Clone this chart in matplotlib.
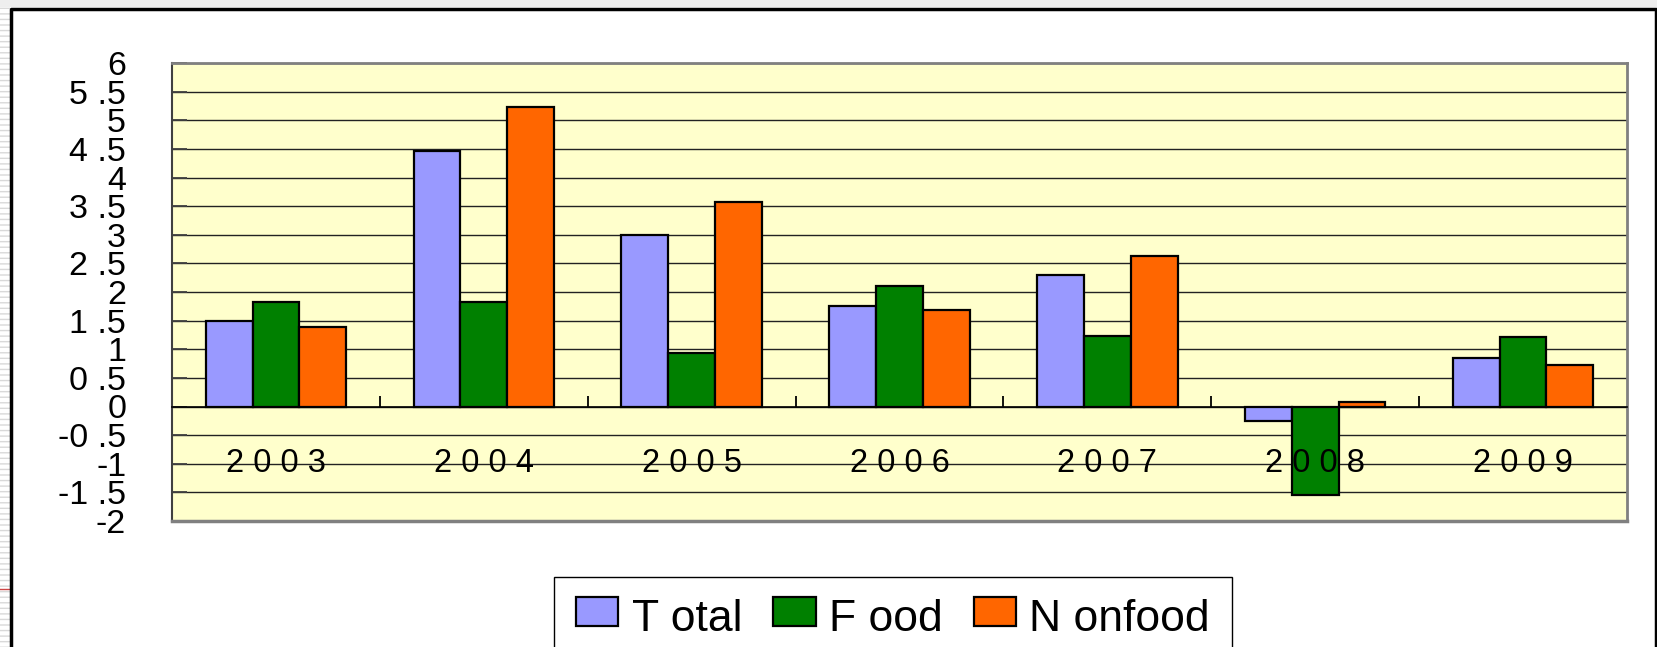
import numpy as np
import matplotlib
matplotlib.use("Agg")
import matplotlib.pyplot as plt
from matplotlib.patches import Rectangle
from matplotlib.lines import Line2D
from matplotlib.legend_handler import HandlerPatch

plt.rcParams['font.family'] = ['Liberation Sans', 'DejaVu Sans']

# === DATA ===
years = ["2003", "2004", "2005", "2006", "2007", "2008", "2009"]
total = [1.50, 4.47, 3.00, 1.75, 2.30, -0.26, 0.84]
food = [1.82, 1.82, 0.94, 2.11, 1.24, -1.55, 1.21]
nonfood = [1.38, 5.23, 3.58, 1.68, 2.63, 0.07, 0.73]
series_names = ["T otal", "F ood", "N onfood"]
colors = ["#9999FF", "#008000", "#FF6600"]
yticks = [-2, -1.5, -1, -0.5, 0, 0.5, 1, 1.5, 2, 2.5, 3, 3.5, 4, 4.5, 5, 5.5, 6]
ytick_labels = [("%g" % v).replace(".", " .") for v in yticks]

W, H = 1658, 647
fig = plt.figure(figsize=(W / 100, H / 100), dpi=100, facecolor="white")

# striped margin on the left + outer frame
fig.patches.append(Rectangle((0, 0), 10 / W, 1, transform=fig.transFigure,
                             facecolor="white", edgecolor="#d9d9d9", hatch="---", lw=0))
fig.patches.append(Rectangle((0, 1 - 7 / H), 1, 7 / H, transform=fig.transFigure,
                             facecolor="#eeeeee", lw=0))
fig.lines.append(Line2D([0, 10 / W], [1 - 589 / H] * 2, transform=fig.transFigure,
                        color="#cc4444", lw=1))
fig.lines.append(Line2D([11 / W, 11 / W, 1656 / W, 1656 / W], [0, 1 - 9 / H, 1 - 9 / H, 0],
                        transform=fig.transFigure, color="black", lw=2.5))

# === PLOT AREA ===
x0, y0, x1, y1 = 172, 63, 1627, 521
ax = fig.add_axes([x0 / W, 1 - y1 / H, (x1 - x0) / W, (y1 - y0) / H])
ax.set_facecolor("#FFFFCC")

x = np.arange(len(years))
bw = 0.225
bars = []
for i, (vals, name, c) in enumerate(zip([total, food, nonfood], series_names, colors)):
    bars.append(ax.bar(x + (i - 1) * bw, vals, bw, color=c, edgecolor="black",
                       linewidth=1.6, label=name, zorder=3))

ax.set_ylim(-2, 6)
ax.set_xlim(-0.5, len(years) - 0.5)
ax.set_yticks(yticks)
ax.set_yticklabels(ytick_labels, fontsize=24.5)
ax.yaxis.grid(True, color="#222222", lw=1.0, zorder=1)
ax.yaxis.set_zorder(1)
ax.tick_params(axis="y", direction="in", length=11, width=1.3, color="#404040", pad=33)

# x axis sits on zero, ticks between categories pointing up
ax.spines["bottom"].set_position(("data", 0))
ax.spines["bottom"].set_color("black")
ax.spines["bottom"].set_linewidth(1.2)
ax.spines["bottom"].set_zorder(4)
ax.set_xticks(x)
ax.set_xticklabels([" ".join(y) for y in years], fontsize=23.5)
ax.set_xticks(x[:-1] + 0.5, minor=True)
ax.tick_params(axis="x", which="major", length=0, pad=30)
ax.tick_params(axis="x", which="minor", direction="in", length=8, width=1.3, color="black")
ax.xaxis.set_zorder(5)

for s in ["top", "right"]:
    ax.spines[s].set_color("#808080")
    ax.spines[s].set_linewidth(2)
ax.spines["left"].set_color("#404040")
ax.spines["left"].set_linewidth(1.5)
ax.axhline(-2, color="#808080", lw=2.5, clip_on=False, zorder=4)


# legend boxes sit a little higher than the text
def raised_box(legend, orig_handle, xdescent, ydescent, width, height, fontsize):
    return Rectangle((-xdescent, -ydescent + 0.13 * height), width, height)


# === LEGEND ===
handles = [b.patches[0] for b in bars]
leg = fig.legend(handles, series_names, loc="upper left",
                 bbox_to_anchor=(554 / W, 1 - 577 / H), ncol=3, fontsize=32,
                 frameon=True, fancybox=False, edgecolor="black", framealpha=1,
                 handlelength=0.95, handleheight=0.62, handletextpad=0.3,
                 columnspacing=0.7, borderpad=0.5, borderaxespad=0,
                 handler_map={Rectangle: HandlerPatch(patch_func=raised_box)})
leg.get_frame().set_linewidth(1.0)

fig.savefig("out.png", dpi=100, facecolor="white")
